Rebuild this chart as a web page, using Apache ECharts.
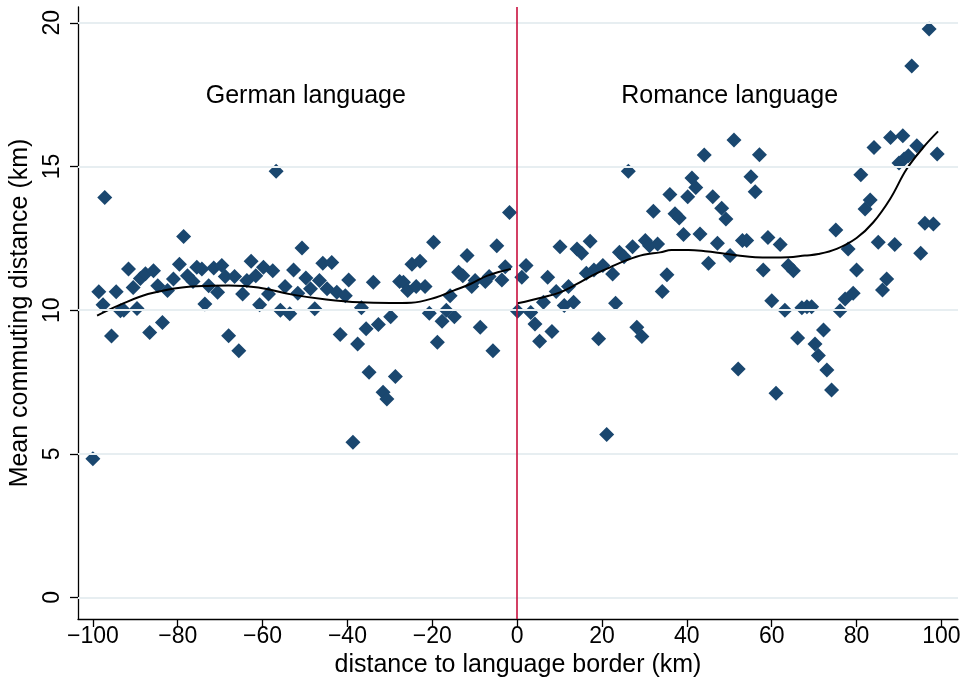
<!DOCTYPE html>
<html>
<head>
<meta charset="utf-8">
<script src="https://cdn.jsdelivr.net/npm/echarts@6/dist/echarts.min.js"></script>
<style>
  html, body { margin: 0; padding: 0; background: #fff; }
  #c { width: 971px; height: 681px; }
</style>
</head>
<body>
<div id="c"></div>
<script>
// ---- tick labels ----
const xTicks = [-100, -80, -60, -40, -20, 0, 20, 40, 60, 80, 100];
const yTicks = [0, 5, 10, 15, 20];

// ---- scatter points: German-speaking side (x km, mean commuting km) ----
const germanPoints = [
  [-100, 4.83], [-98.6, 10.64], [-97.6, 10.19], [-97.2, 13.92], [-95.6, 9.1],
  [-94.5, 10.64], [-93.5, 9.98], [-92.7, 10.0], [-91.6, 11.43], [-90.5, 10.79],
  [-89.6, 10.06], [-88.8, 11.1], [-87.6, 11.27], [-86.6, 9.22], [-85.7, 11.37],
  [-84.7, 10.85], [-83.6, 9.57], [-82.4, 10.68], [-81.0, 11.08], [-79.6, 11.6],
  [-78.6, 12.56], [-77.7, 11.2], [-76.4, 11.0], [-75.5, 11.49], [-74.3, 11.43],
  [-73.6, 10.21], [-72.7, 10.85], [-71.5, 11.47], [-70.6, 10.62], [-69.6, 11.55],
  [-68.8, 11.17], [-68.0, 9.11], [-66.6, 11.17], [-65.6, 8.59], [-64.7, 10.56],
  [-63.7, 11.03], [-62.7, 11.7], [-61.6, 11.2], [-60.7, 10.19], [-59.8, 11.49],
  [-58.6, 10.56], [-57.6, 11.37], [-56.8, 14.83], [-55.8, 10.0], [-54.7, 10.82],
  [-53.6, 9.87], [-52.7, 11.4], [-51.7, 10.59], [-50.7, 12.16], [-49.8, 11.12],
  [-48.7, 10.74], [-47.7, 10.05], [-46.6, 11.03], [-45.8, 11.63], [-44.8, 10.74],
  [-43.7, 11.66], [-42.5, 10.62], [-41.7, 9.15], [-40.5, 10.5], [-39.7, 11.05],
  [-38.7, 5.40], [-37.6, 8.82], [-36.7, 10.08], [-35.6, 9.35], [-34.9, 7.84],
  [-33.9, 10.97], [-32.7, 9.5], [-31.6, 7.14], [-30.7, 6.91], [-29.8, 9.77],
  [-28.7, 7.69], [-27.7, 11.0], [-26.8, 10.97], [-25.8, 10.68], [-24.8, 11.6],
  [-23.8, 10.82], [-22.9, 11.7], [-21.7, 10.82], [-20.7, 9.89], [-19.7, 12.36],
  [-18.8, 8.88], [-17.7, 9.61], [-16.7, 10.0], [-15.8, 10.5], [-14.8, 9.77],
  [-13.8, 11.32], [-12.8, 11.2], [-11.8, 11.9], [-10.7, 10.82], [-9.9, 11.03],
  [-8.7, 9.4], [-7.5, 11.0], [-6.6, 11.17], [-5.7, 8.59], [-4.8, 12.24],
  [-3.6, 11.05], [-2.8, 11.51], [-1.8, 13.4]
];

// ---- scatter points: Romance-speaking side ----
const romancePoints = [
  [0.1, 9.96], [1.1, 11.14], [2.1, 11.55], [3.2, 9.92], [4.2, 9.52],
  [5.3, 8.92], [6.2, 10.27], [7.2, 11.14], [8.2, 9.26], [9.2, 10.65],
  [10.1, 12.21], [11.1, 10.16], [12.1, 10.82], [13.3, 10.27], [14.1, 12.13],
  [15.2, 11.98], [16.3, 11.28], [17.2, 12.4], [18.1, 11.4], [19.2, 9.0],
  [20.2, 11.55], [21.1, 5.67], [22.5, 11.26], [23.2, 10.24], [24.1, 12.01],
  [25.2, 11.86], [26.2, 14.83], [27.2, 12.21], [28.2, 9.4], [29.4, 9.08],
  [30.2, 12.42], [31.2, 12.24], [32.1, 13.44], [33.1, 12.3], [34.2, 10.65],
  [35.3, 11.23], [36.0, 14.02], [37.2, 13.35], [38.2, 13.21], [39.2, 12.63],
  [40.2, 13.95], [41.2, 14.6], [42.1, 14.27], [43.1, 12.65], [44.1, 15.4],
  [45.1, 11.63], [46.1, 13.95], [47.2, 12.33], [48.2, 13.55], [49.2, 13.17],
  [50.2, 11.9], [51.1, 15.92], [52.1, 7.95], [53.1, 12.42], [54.1, 12.42],
  [55.1, 14.64], [56.1, 14.12], [57.1, 15.41], [58.0, 11.4], [59.1, 12.53],
  [60.0, 10.33], [61.0, 7.11], [62.0, 12.28], [63.1, 10.0], [63.9, 11.55],
  [65.1, 11.37], [66.1, 9.03], [67.1, 10.08], [68.3, 10.12], [69.4, 10.12],
  [70.2, 8.82], [71.0, 8.42], [72.2, 9.31], [73.0, 7.92], [74.1, 7.22],
  [75.1, 12.79], [76.1, 9.98], [77.3, 10.39], [78.0, 12.13], [79.2, 10.59],
  [80.0, 11.4], [81.0, 14.71], [82.0, 13.52], [83.2, 13.83], [84.1, 15.66],
  [85.1, 12.36], [86.1, 10.7], [87.1, 11.08], [88.0, 16.01], [89.0, 12.28],
  [90.0, 15.12], [90.9, 16.07], [91.2, 15.26], [92.2, 15.37], [93.0, 18.5],
  [94.2, 15.72], [95.1, 11.98], [96.1, 13.02], [97.1, 19.78], [98.1, 13.0],
  [99.0, 15.43]
];

// ---- fitted curves ----
const germanFit = [
  [-99, 9.81], [-93.5, 10.19], [-87, 10.56], [-79, 10.79], [-72, 10.85],
  [-68, 10.86], [-61, 10.79], [-53, 10.54], [-45, 10.37], [-37, 10.27],
  [-30, 10.25], [-25, 10.26], [-19, 10.45], [-15, 10.68], [-11, 10.91],
  [-7, 11.2], [-1.5, 11.43]
];
const romanceFit = [
  [0.1, 10.24], [6.2, 10.45], [10.1, 10.62], [14.1, 10.91], [18, 11.23],
  [21.9, 11.49], [25.8, 11.74], [29.8, 11.93], [33.7, 12.01], [36.4, 12.09],
  [40.4, 12.09], [44.3, 12.05], [48.2, 11.98], [52.1, 11.9], [56.1, 11.84],
  [60, 11.83], [63.9, 11.84], [67.8, 11.9], [71, 11.95], [75.3, 12.13],
  [80, 12.51], [83.9, 13.05], [87.9, 13.87], [91.8, 14.91], [95.7, 15.66],
  [99.2, 16.22]
];

// ---- annotations ----
const regionLabels = [[-49.7, 17.43, 'German language'], [50.2, 17.43, 'Romance language']];
const borderX = 0;

const FONT = '"Liberation Sans", Arial, Helvetica, sans-serif';
const NAVY = '#1a476f';

const chart = echarts.init(document.getElementById('c'), null, { renderer: 'canvas' });
const minus = v => String(v).replace('-', '\u2212');

chart.setOption({
  animation: false,
  backgroundColor: '#ffffff',
  grid: { left: 78, right: 13, top: 7, bottom: 62, containLabel: false, outerBoundsMode: 'none' },
  xAxis: {
    type: 'value', min: -103.5, max: 103.9,
    axisLine: { show: true, onZero: false, lineStyle: { color: '#000', width: 1.3 } },
    axisTick: { show: true, length: 8, customValues: xTicks, lineStyle: { color: '#000', width: 1.3 } },
    axisLabel: { customValues: xTicks, formatter: minus, fontSize: 23, color: '#000', fontFamily: FONT, margin: 6 },
    splitLine: { show: false },
    name: 'distance to language border (km)', nameLocation: 'middle', nameGap: 29,
    nameTextStyle: { fontSize: 25, color: '#000', fontFamily: FONT }
  },
  yAxis: {
    type: 'value', min: -0.75, max: 20.55,
    axisLine: { show: true, onZero: false, lineStyle: { color: '#000', width: 1.3 } },
    axisTick: { show: true, length: 8, customValues: yTicks, lineStyle: { color: '#000', width: 1.3 } },
    axisLabel: { customValues: yTicks, rotate: 90, fontSize: 23, color: '#000', fontFamily: FONT, margin: 14 },
    splitLine: { show: false },
    name: 'Mean commuting distance (km)', nameLocation: 'middle', nameGap: 32,
    nameTextStyle: { fontSize: 25, color: '#000', fontFamily: FONT }
  },
  series: [
    {
      name: 'grid', type: 'line', data: [], z: 1, silent: true,
      markLine: {
        silent: true, symbol: ['none', 'none'], label: { show: false },
        lineStyle: { color: '#e7eef1', width: 2, type: 'solid' },
        data: yTicks.map(v => ({ yAxis: v }))
      }
    },
    {
      name: 'border', type: 'line', data: [], z: 2, silent: true,
      markLine: {
        silent: true, symbol: ['none', 'none'], label: { show: false },
        lineStyle: { color: '#c8103e', width: 1.6, type: 'solid' },
        data: [{ xAxis: borderX }]
      }
    },
    {
      name: 'German', type: 'scatter', data: germanPoints, z: 3,
      symbol: 'diamond', symbolSize: 15, itemStyle: { color: NAVY, opacity: 1 }
    },
    {
      name: 'Romance', type: 'scatter', data: romancePoints, z: 3,
      symbol: 'diamond', symbolSize: 15, itemStyle: { color: NAVY, opacity: 1 }
    },
    {
      name: 'German fit', type: 'line', data: germanFit, smooth: 0.4, showSymbol: false, z: 4,
      lineStyle: { color: '#000', width: 2 }
    },
    {
      name: 'Romance fit', type: 'line', data: romanceFit, smooth: 0.4, showSymbol: false, z: 4,
      lineStyle: { color: '#000', width: 2 }
    },
    {
      name: 'labels', type: 'scatter', data: regionLabels, z: 5, symbolSize: 1,
      itemStyle: { color: 'transparent', opacity: 1 },
      label: {
        show: true, position: [0, 0], align: 'center', verticalAlign: 'middle',
        formatter: p => p.data[2], fontSize: 25, color: '#000', opacity: 1, fontFamily: FONT,
        textBorderWidth: 0
      }
    }
  ]
});
</script>
</body>
</html>
